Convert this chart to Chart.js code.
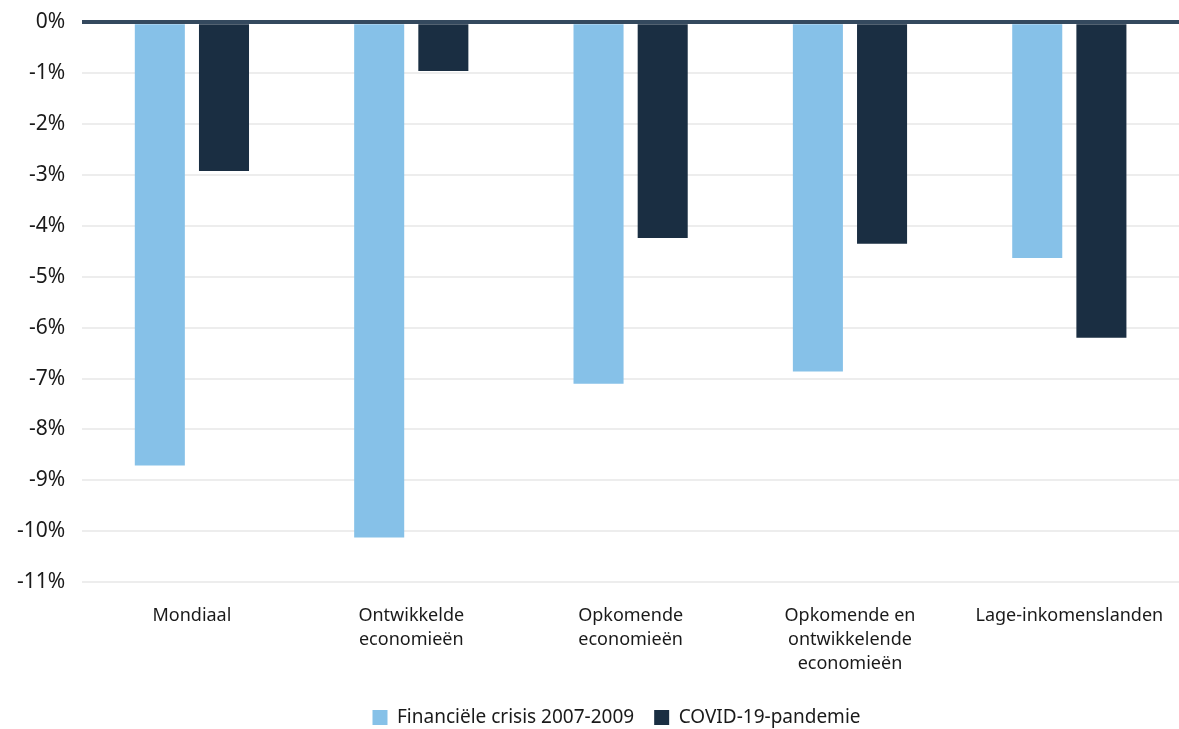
<!DOCTYPE html>
<html>
    <head>
        <meta charset="utf-8">
        <title>Economische krimp: financiële crisis vs COVID-19</title>
        <script src="https://cdn.jsdelivr.net/npm/chart.js@4.4.0/dist/chart.umd.js"></script>
        <style>
            body { margin: 0; background: #fff; }
            #wrap { width: 1179px; height: 729px; }
        </style>
    </head>
    <body>
        <div id="wrap"><canvas id="barChart"></canvas></div>
        <script>
            // categories and values (percent change)
            const categories = [
                "Mondiaal",
                ["Ontwikkelde", "economieën"],
                ["Opkomende", "economieën"],
                ["Opkomende en", "ontwikkelende", "economieën"],
                "Lage-inkomenslanden"
            ];
            const crisisValues = [-8.71, -10.12, -7.10, -6.86, -4.63];
            const covidValues = [-2.92, -0.96, -4.24, -4.35, -6.20];
            const seriesNames = ["Financiële crisis 2007-2009", "COVID-19-pandemie"];

            const font = "'Noto Sans', 'Open Sans', sans-serif";

            // nudge the legend a bit to the right, like the original
            const legendShift = {
                id: 'legendShift',
                afterLayout(chart) {
                    chart.legend.left += 27;
                    chart.legend.right += 27;
                }
            };

            new Chart(document.getElementById("barChart"), {
                type: 'bar',
                data: {
                    labels: categories,
                    datasets: [{
                        label: seriesNames[0],
                        data: crisisValues,
                        backgroundColor: "#86c1e8"
                    }, {
                        label: seriesNames[1],
                        data: covidValues,
                        backgroundColor: "#1a2e42"
                    }]
                },
                options: {
                    responsive: true,
                    maintainAspectRatio: false,
                    animation: false,
                    categoryPercentage: 0.585,
                    barPercentage: 0.78,
                    layout: { padding: { top: 20, right: 0, left: 0, bottom: -8 } },
                    plugins: {
                        tooltip: { enabled: false },
                        legend: {
                            position: 'bottom',
                            labels: {
                                font: { family: font, size: 19 },
                                color: "#1a1a1a",
                                boxWidth: 15,
                                boxHeight: 15,
                                padding: 20
                            }
                        }
                    },
                    scales: {
                        x: {
                            grid: { display: false },
                            border: { display: false },
                            ticks: {
                                font: { family: font, size: 18, lineHeight: 1.33 },
                                color: "#1a1a1a",
                                maxRotation: 0,
                                padding: 14
                            },
                            afterFit: (s) => { s.height -= 2; }
                        },
                        y: {
                            min: -11,
                            max: 0,
                            border: { display: false },
                            grid: {
                                color: (c) => c.tick && c.tick.value === 0 ? "#34495e" : "#ededed",
                                lineWidth: (c) => c.tick && c.tick.value === 0 ? 4 : 2,
                                drawTicks: false
                            },
                            ticks: {
                                stepSize: 1,
                                padding: 17,
                                font: { family: font, size: 21, lineHeight: 0.5 },
                                color: "#1a1a1a",
                                callback: (v) => v + "%"
                            }
                        }
                    }
                },
                plugins: [legendShift]
            });
        </script>
    </body>
</html>
